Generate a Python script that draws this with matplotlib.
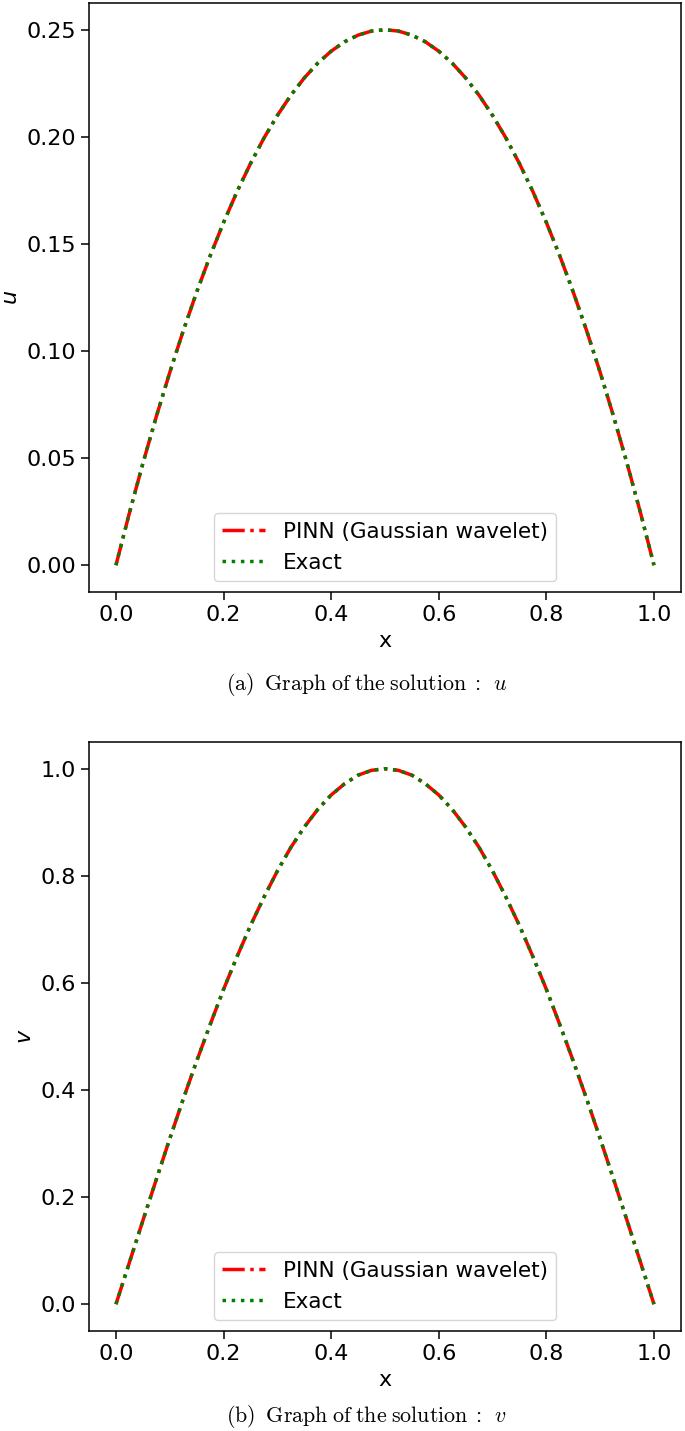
import numpy as np
import matplotlib.pyplot as plt

# values, x from 0 to 1 in steps of 0.025
x_vals = [0.0, 0.025, 0.05, 0.075, 0.1, 0.125, 0.15, 0.175, 0.2, 0.225,
          0.25, 0.275, 0.3, 0.325, 0.35, 0.375, 0.4, 0.425, 0.45, 0.475,
          0.5, 0.525, 0.55, 0.575, 0.6, 0.625, 0.65, 0.675, 0.7, 0.725,
          0.75, 0.775, 0.8, 0.825, 0.85, 0.875, 0.9, 0.925, 0.95, 0.975, 1.0]
u_vals = [0.0, 0.0244, 0.0475, 0.0694, 0.09, 0.1094, 0.1275, 0.1444, 0.16, 0.1744,
          0.1875, 0.1994, 0.21, 0.2194, 0.2275, 0.2344, 0.24, 0.2444, 0.2475, 0.2494,
          0.25, 0.2494, 0.2475, 0.2444, 0.24, 0.2344, 0.2275, 0.2194, 0.21, 0.1994,
          0.1875, 0.1744, 0.16, 0.1444, 0.1275, 0.1094, 0.09, 0.0694, 0.0475, 0.0244, 0.0]
v_vals = [0.0, 0.078, 0.156, 0.233, 0.309, 0.383, 0.454, 0.522, 0.588, 0.649,
          0.707, 0.760, 0.809, 0.853, 0.891, 0.924, 0.951, 0.972, 0.988, 0.997,
          1.0, 0.997, 0.988, 0.972, 0.951, 0.924, 0.891, 0.853, 0.809, 0.760,
          0.707, 0.649, 0.588, 0.522, 0.454, 0.383, 0.309, 0.233, 0.156, 0.078, 0.0]

panels = [
    {"y": u_vals, "ylabel": "$u$", "caption": r"$\mathrm{(a)\;\; Graph\; of\; the\; solution\; :}\;\, u$"},
    {"y": v_vals, "ylabel": "$v$", "caption": r"$\mathrm{(b)\;\; Graph\; of\; the\; solution\; :}\;\, v$"},
]

fs = 16
fig = plt.figure(figsize=(6.85, 14.31), dpi=100)
bottoms = [0.5863, 0.0699]
caption_y = [1 - 685 / 1431, 1 - 1417 / 1431]

for i, p in enumerate(panels):
    ax = fig.add_axes([0.130, bottoms[i], 0.864, 0.4116])
    x = np.array(x_vals)
    y = np.array(p["y"])
    ax.plot(x, y, color="red", linestyle="-.", linewidth=2.5, label="PINN (Gaussian wavelet)")
    ax.plot(x, y, color="green", linestyle=":", linewidth=2.5, label="Exact")
    ax.set_xlabel("x", fontsize=fs)
    ax.set_ylabel(p["ylabel"], fontsize=fs)
    ax.tick_params(labelsize=fs, length=6, width=1.1)
    for s in ax.spines.values():
        s.set_linewidth(1.1)
    ax.set_xticks([0.0, 0.2, 0.4, 0.6, 0.8, 1.0])
    ax.legend(loc="lower center", fontsize=15.5)
    fig.text(0.535, caption_y[i], p["caption"], ha="center", va="center",
             fontsize=15.8, math_fontfamily="cm")

plt.savefig("out.png", dpi=100)
